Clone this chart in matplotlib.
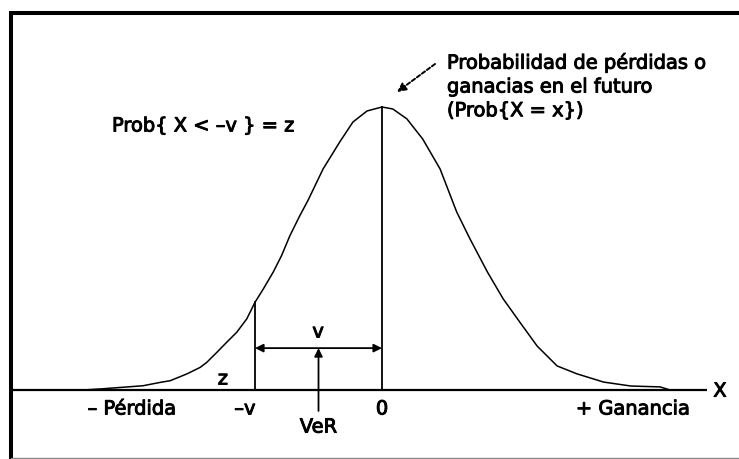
import numpy as np
import matplotlib.pyplot as plt
import matplotlib.patheffects as pe
from matplotlib.lines import Line2D

# Bell curve of future gains/losses (x in std units, height relative to peak)
curve_x = [-3.60, -3.38, -2.88, -2.67, -2.55, -2.35, -2.19, -2.11, -1.99, -1.87,
           -1.75, -1.63, -1.53, -1.43, -1.31, -1.21, -1.11, -0.99, -0.89, -0.71,
           -0.51, -0.35, -0.18, 0.00, 0.13, 0.30, 0.49, 0.70, 0.90, 1.06,
           1.27, 1.46, 1.66, 1.87, 2.11, 2.35, 2.67, 3.00, 3.35, 3.47]
curve_y = [0.000, 0.004, 0.015, 0.027, 0.033, 0.057, 0.080, 0.098, 0.133, 0.169,
           0.204, 0.251, 0.310, 0.357, 0.417, 0.475, 0.545, 0.616, 0.671, 0.781,
           0.876, 0.947, 0.986, 1.000, 0.993, 0.958, 0.887, 0.781, 0.629, 0.534,
           0.417, 0.322, 0.240, 0.155, 0.085, 0.057, 0.028, 0.014, 0.011, 0.000]

axis_ends = [-4.45, 3.92]
var_x = -1.53        # -v
mean_x = 0.0         # 0
var_height = 0.310   # curve height at -v
peak_height = 1.0
span_y = 0.148       # height of the v span arrow
ver_tail = -0.074

plt.rcParams['font.family'] = 'DejaVu Sans'
fs = 14
heavy = [pe.withStroke(linewidth=0.7, foreground='black')]

fig = plt.figure(figsize=(7.39, 4.60), dpi=100)
ax = fig.add_axes([0, 0, 1, 1])
ax.set_xlim(-382 / 83, (739 - 382) / 83)
ax.set_ylim(-69 / 283, (460 - 69) / 283)
ax.axis('off')

# horizontal X axis and the curve
ax.plot(axis_ends, [0, 0], color='black', lw=1.6, solid_capstyle='butt')
ax.plot(curve_x, curve_y, color='black', lw=1.1)

# vertical markers at -v and 0
ax.plot([var_x, var_x], [0, var_height], color='black', lw=1.3)
ax.plot([mean_x, mean_x], [0, peak_height], color='black', lw=1.3)

# v span and VeR pointer
ax.annotate('', xy=(var_x, span_y), xytext=(mean_x, span_y),
            arrowprops=dict(arrowstyle='<|-|>', color='black', lw=1.3,
                            mutation_scale=12, shrinkA=0, shrinkB=0))
ver_x = (var_x + mean_x) / 2
ax.annotate('', xy=(ver_x, span_y), xytext=(ver_x, ver_tail),
            arrowprops=dict(arrowstyle='-|>', color='black', lw=1.3,
                            mutation_scale=12, shrinkA=0, shrinkB=0))

# dashed pointer to the curve description
ax.annotate('', xy=(0.181, 1.053), xytext=(0.639, 1.152),
            arrowprops=dict(arrowstyle='-|>', color='black', lw=1.4,
                            linestyle=(0, (2, 1.2)), mutation_scale=13,
                            shrinkA=0, shrinkB=0))

labels = [
    (-3.253, 0.933, 'Prob{ X < \u2013v } = z', 'left'),
    (4.072, -0.004, 'X', 'center'),
    (-3.012, -0.067, '\u2013 Pérdida', 'center'),
    (-1.651, -0.067, '\u2013v', 'center'),
    (mean_x, -0.067, '0', 'center'),
    (ver_x, -0.131, 'VeR', 'center'),
    (-0.77, 0.205, 'v', 'center'),
    (-1.916, 0.039, 'z', 'center'),
    (3.024, -0.067, '+ Ganancia', 'center'),
]
for x, y, s, ha in labels:
    ax.text(x, y, s, fontsize=fs, ha=ha, va='center', path_effects=heavy)

ax.text(0.783, 1.192, 'Probabilidad de pérdidas o\nganacias en el futuro\n(Prob{X = x})',
        fontsize=fs, ha='left', va='top', linespacing=1.32, path_effects=heavy)

# picture frame: heavy top and left edges, faint bottom edge
fig.add_artist(Line2D([9 / 739, 1], [1 - 13.5 / 460] * 2, color='black', lw=2.9,
                      solid_capstyle='butt', transform=fig.transFigure))
fig.add_artist(Line2D([11 / 739] * 2, [0, 1 - 12 / 460], color='black', lw=2.9,
                      solid_capstyle='butt', transform=fig.transFigure))
fig.add_artist(Line2D([11 / 739, 1], [1.5 / 460] * 2, color='#888888', lw=1.0,
                      transform=fig.transFigure))

fig.savefig('out.png', dpi=100)
